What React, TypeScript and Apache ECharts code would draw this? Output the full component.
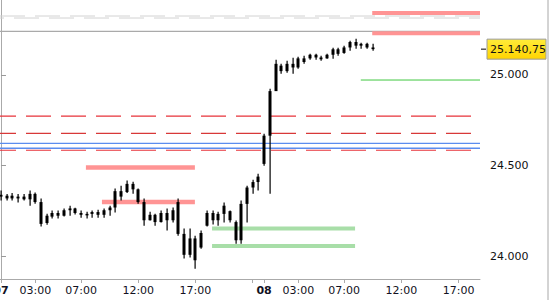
import React, { useEffect, useRef } from "react";
import * as echarts from "echarts";

// 30-minute OHLC bars, index 0 = day 07 00:00, index 46 = day 08 00:00
const opens = [
  24340, 24320, 24335, 24320, 24330, 24315, 24345, 24300, 24185, 24220,
  24240, 24225, 24255, 24265, 24240, 24230, 24235, 24245, 24230, 24255,
  24270, 24360, 24355, 24400, 24370, 24300, 24200, 24230, 24190, 24240,
  24200, 24300, 24125, 24010, 24100, 24050, 24170, 24240, 24200, 24235,
  24250, 24190, 24090, 24290, 24380, 24410, 24510, 24665, 24910, 25050,
  25020, 25060, 25040, 25090, 25090, 25110, 25095, 25090, 25110, 25140,
  25120, 25150, 25180, 25160, 25170, 25150,
];
const highs = [
  24363, 24345, 24350, 24345, 24345, 24363, 24352, 24320, 24236, 24253,
  24253, 24264, 24280, 24269, 24253, 24247, 24253, 24258, 24264, 24280,
  24374, 24390, 24418, 24412, 24374, 24320, 24247, 24236, 24253, 24264,
  24270, 24319, 24154, 24154, 24115, 24143, 24253, 24253, 24247, 24297,
  24253, 24198, 24308, 24390, 24423, 24456, 24676, 24923, 25082, 25060,
  25077, 25093, 25099, 25104, 25115, 25115, 25104, 25115, 25148, 25148,
  25159, 25187, 25198, 25176, 25176, 25170,
];
const lows = [
  24308, 24308, 24308, 24297, 24308, 24280, 24291, 24165, 24175, 24209,
  24209, 24220, 24225, 24231, 24214, 24209, 24214, 24214, 24214, 24225,
  24242, 24308, 24350, 24346, 24291, 24170, 24198, 24170, 24187, 24143,
  24187, 24115, 23990, 23995, 23934, 24044, 24165, 24176, 24170, 24187,
  24187, 24071, 24071, 24187, 24346, 24363, 24500, 24346, 24912, 25005,
  25011, 25005, 25033, 25060, 25082, 25082, 25077, 25088, 25088, 25104,
  25115, 25132, 25143, 25143, 25143, 25132,
];
const closes = [
  24330, 24335, 24320, 24330, 24315, 24345, 24300, 24180, 24225, 24240,
  24225, 24255, 24265, 24240, 24230, 24235, 24245, 24230, 24255, 24270,
  24360, 24330, 24400, 24370, 24300, 24200, 24230, 24190, 24240, 24200,
  24255, 24125, 24010, 24100, 23980, 24130, 24240, 24200, 24235, 24280,
  24200, 24090, 24290, 24380, 24410, 24440, 24665, 24910, 25060, 25020,
  25060, 25040, 25090, 25070, 25110, 25095, 25085, 25110, 25140, 25115,
  25150, 25180, 25160, 25170, 25150, 25140.75,
];

const xTickPositions = [0, 6, 14, 24, 34, 44, 46, 52, 60, 70, 80];
const xLabelPositions = [0, 6, 14, 24, 34, 46, 52, 60, 70, 80];
const xLabelTexts = ["07", "03:00", "07:00", "12:00", "17:00", "08", "03:00", "07:00", "12:00", "17:00"];
const dayLabels = ["07", "08"];
const yTickValues = [24000, 24500, 25000];

const X_MIN = -0.17;
const X_MAX = 83.74;
const Y_MIN = 23877;
const Y_MAX = 25411;

// horizontal levels: price, start index, end index
const levelValues = [25323, 25312, 25239, 25340, 25228, 24971, 24772, 24678, 24623, 24596, 24585, 24490, 24300, 24155, 24058];
const levelFrom = [X_MIN, X_MIN, X_MIN, 64.9, 64.9, 62.9, X_MIN, X_MIN, X_MIN, X_MIN, X_MIN, 14.85, 17.65, 36.9, 36.9];
const levelTo = [X_MAX, X_MAX, X_MAX, X_MAX, X_MAX, X_MAX, X_MAX, X_MAX, X_MAX, X_MAX, X_MAX, 33.9, 33.9, 61.9, 61.9];

const levelStyles: any[] = [
  { color: "#d2d2d2", width: 1, type: [25, 10], dashOffset: 0 },
  { color: "#d2d2d2", width: 1, type: [25, 10], dashOffset: 21 },
  { color: "#aaaaaa", width: 1.2, type: "solid" },
  { color: "#ff9494", width: 4, type: "solid" },
  { color: "#ff9494", width: 4, type: "solid" },
  { color: "#40c840", width: 1, type: "solid" },
  { color: "#e8333a", width: 1.2, type: [25, 10], dashOffset: 9 },
  { color: "#d83838", width: 1.2, type: [25, 10], dashOffset: 9 },
  { color: "#5b8def", width: 1.3, type: "solid" },
  { color: "#5b8def", width: 1.3, type: "solid" },
  { color: "#e8333a", width: 1.2, type: [25, 10], dashOffset: 9 },
  { color: "#ff9494", width: 4.5, type: "solid" },
  { color: "#ff9494", width: 4.5, type: "solid" },
  { color: "#a8dea8", width: 4, type: "solid" },
  { color: "#a8dea8", width: 4, type: "solid" },
];

const FONT = "DejaVu Sans";

function formatDe(v: number): string {
  const fixed = v.toFixed(2);
  const [intPart, dec] = fixed.split(".");
  const withDots = intPart.replace(/\B(?=(\d{3})+(?!\d))/g, ".");
  return withDots + "," + dec;
}

export default function App() {
  const ref = useRef<HTMLDivElement>(null);

  useEffect(() => {
    if (!ref.current) return;
    const chart = echarts.init(ref.current, undefined, { renderer: "svg" });

    const barData = opens.map((o, i) => [i, o, closes[i], lows[i], highs[i]]);

    const levelSeries = levelValues.map((v, k) => ({
      type: "line",
      data: [
        [levelFrom[k], v],
        [levelTo[k], v],
      ],
      showSymbol: false,
      symbol: "none",
      silent: true,
      z: 1,
      lineStyle: {
        color: levelStyles[k].color,
        width: levelStyles[k].width,
        type: levelStyles[k].type,
        dashOffset: levelStyles[k].dashOffset || 0,
        cap: "butt",
      },
    }));

    chart.setOption({
      animation: false,
      textStyle: { fontFamily: FONT },
      grid: {
        left: 0,
        right: 70,
        top: 0,
        bottom: 21,
        containLabel: false,
        outerBoundsMode: "none",
      },
      xAxis: {
        type: "value",
        min: X_MIN,
        max: X_MAX,
        splitLine: { show: false },
        axisLine: { show: true, lineStyle: { color: "#aaaaaa", width: 1 } },
        axisTick: {
          show: true,
          customValues: xTickPositions,
          length: 4,
          lineStyle: { color: "#aaaaaa" },
        },
        axisLabel: {
          customValues: xLabelPositions,
          margin: 6,
          color: "#111122",
          fontSize: 11,
          fontFamily: FONT,
          hideOverlap: false,
          formatter: (v: number) => {
            const k = xLabelPositions.indexOf(Math.round(v));
            const t = k >= 0 ? xLabelTexts[k] : "";
            return dayLabels.includes(t) ? `{b|${t}}` : t;
          },
          rich: {
            b: { fontWeight: "bold", fontSize: 11, fontFamily: FONT, color: "#111122" },
          },
        },
      },
      yAxis: {
        type: "value",
        position: "right",
        min: Y_MIN,
        max: Y_MAX,
        splitLine: { show: false },
        axisLine: { show: true, lineStyle: { color: "#aaaaaa", width: 1 } },
        axisTick: {
          show: true,
          customValues: yTickValues,
          length: 5,
          lineStyle: { color: "#999999" },
        },
        axisLabel: {
          customValues: yTickValues,
          margin: 10,
          color: "#111111",
          fontSize: 11,
          fontFamily: FONT,
          formatter: (v: number) => formatDe(v).replace(",00", ""),
        },
      },
      series: [
        ...levelSeries,
        {
          type: "custom",
          z: 5,
          data: barData,
          encode: { x: 0, y: [1, 2, 3, 4] },
          renderItem: (params: any, api: any) => {
            const i = api.value(0);
            const o = api.coord([i, api.value(1)]);
            const c = api.coord([i, api.value(2)]);
            const l = api.coord([i, api.value(3)]);
            const h = api.coord([i, api.value(4)]);
            const x = Math.round(o[0]);
            const top = Math.min(o[1], c[1]);
            const bh = Math.max(1.5, Math.abs(o[1] - c[1]));
            return {
              type: "group",
              children: [
                {
                  type: "rect",
                  shape: { x: x - 0.5, y: h[1], width: 1.2, height: Math.max(1, l[1] - h[1]) },
                  style: { fill: "#000" },
                },
                {
                  type: "rect",
                  shape: { x: x - 1.5, y: top, width: 3, height: bh },
                  style: { fill: "#000" },
                },
              ],
            };
          },
        },
      ],
    });

    const last = closes[closes.length - 1];
    const py = chart.convertToPixel({ yAxisIndex: 0 }, last) as number;

    chart.setOption({
      graphic: [
        {
          type: "line",
          shape: { x1: 548, y1: 0, x2: 548, y2: 300 },
          style: { stroke: "#a8a8a8", lineWidth: 1 },
        },
        {
          type: "line",
          shape: { x1: 481, y1: py, x2: 486, y2: py },
          style: { stroke: "#000", lineWidth: 1 },
        },
        {
          type: "rect",
          shape: { x: 487, y: py - 10, width: 59, height: 20 },
          style: {
            fill: new echarts.graphic.LinearGradient(0, 0, 0, 1, [
              { offset: 0, color: "#ffec3a" },
              { offset: 1, color: "#ffd400" },
            ]),
            stroke: "#9a9a9a",
            lineWidth: 1,
          },
        },
        {
          type: "text",
          x: 490,
          y: py,
          style: {
            text: formatDe(last),
            fontSize: 11,
            fontFamily: FONT,
            fill: "#111",
            verticalAlign: "middle",
            align: "left",
          },
        },
      ],
    });

    return () => chart.dispose();
  }, []);

  return (
    <div
      ref={ref}
      style={{ position: "fixed", left: 0, top: 0, width: 550, height: 300, background: "#fff" }}
    />
  );
}
